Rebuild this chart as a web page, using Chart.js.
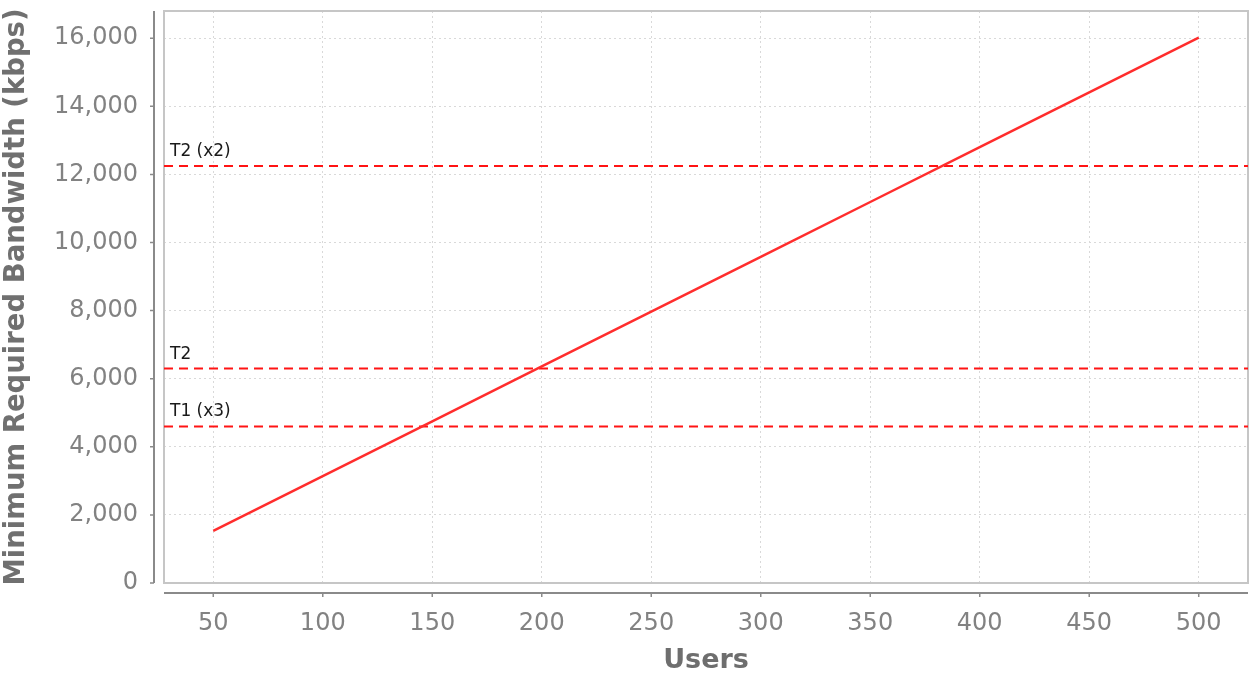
<!DOCTYPE html>
<html><head><meta charset="utf-8">
<script src="https://cdn.jsdelivr.net/npm/chart.js@4.4.1/dist/chart.umd.min.js"></script>
<style>html,body{margin:0;padding:0;background:#fff;overflow:hidden}</style>
</head><body>
<canvas id="c" width="1249" height="677"></canvas>
<script>
const USERS = [50, 100, 150, 200, 250, 300, 350, 400, 450, 500];
const BANDWIDTH = [1530, 3140, 4750, 6360, 7970, 9580, 11190, 12800, 14410, 16020];
const THRESHOLD_LABELS = ['T2 (x2)', 'T2', 'T1 (x3)'];
const THRESHOLD_VALUES = [12250, 6300, 4600];
const X_TICKS = [50, 100, 150, 200, 250, 300, 350, 400, 450, 500];
const Y_TICKS = [0, 2000, 4000, 6000, 8000, 10000, 12000, 14000, 16000];
const X_MIN = 27.5, X_MAX = 522.5, Y_MIN = 0, Y_MAX = 16800;

const FONT = 'DejaVu Sans';

const datasets = [{
  label: 'Bandwidth',
  data: USERS.map((u, i) => ({x: u, y: BANDWIDTH[i]})),
  borderColor: 'rgb(255,45,45)',
  borderWidth: 2.5,
  pointRadius: 0,
  tension: 0
}];
THRESHOLD_VALUES.forEach((v, i) => {
  datasets.push({
    label: THRESHOLD_LABELS[i],
    data: [{x: X_MIN, y: v}, {x: X_MAX, y: v}],
    borderColor: 'rgb(255,20,20)',
    borderWidth: 2,
    borderDash: [9, 6],
    pointRadius: 0
  });
});

const framePlugin = {
  id: 'frame',
  beforeDatasetsDraw(chart) {
    const ctx = chart.ctx, a = chart.chartArea;
    const xs = chart.scales.x, ys = chart.scales.y;
    ctx.save();
    ctx.strokeStyle = '#c6c6c6';
    ctx.lineWidth = 2;
    ctx.strokeRect(a.left, a.top, a.right - a.left, a.bottom - a.top);
    ctx.strokeStyle = '#8a8a8a';
    ctx.lineWidth = 2;
    const ax = a.left - 10, ay = a.bottom + 10;
    ctx.beginPath();
    ctx.moveTo(ax, a.top); ctx.lineTo(ax, a.bottom);
    ctx.moveTo(a.left, ay); ctx.lineTo(a.right, ay);
    ctx.stroke();
    ctx.lineWidth = 1.5;
    ctx.beginPath();
    Y_TICKS.forEach(v => {
      const py = ys.getPixelForValue(v);
      ctx.moveTo(ax - 4, py); ctx.lineTo(ax, py);
    });
    X_TICKS.forEach(v => {
      const px = xs.getPixelForValue(v);
      ctx.moveTo(px, ay); ctx.lineTo(px, ay + 4);
    });
    ctx.stroke();
    ctx.restore();
  },
  afterDatasetsDraw(chart) {
    const ctx = chart.ctx, a = chart.chartArea, ys = chart.scales.y;
    ctx.save();
    ctx.fillStyle = '#1a1a1a';
    ctx.font = '17px "' + FONT + '"';
    ctx.textAlign = 'left';
    ctx.textBaseline = 'alphabetic';
    THRESHOLD_VALUES.forEach((v, i) => {
      ctx.fillText(THRESHOLD_LABELS[i], a.left + 6, ys.getPixelForValue(v) - 10);
    });
    ctx.restore();
  }
};

new Chart(document.getElementById('c'), {
  type: 'line',
  data: {datasets},
  plugins: [framePlugin],
  options: {
    responsive: false,
    animation: false,
    devicePixelRatio: 1,
    layout: {padding: {top: 11, right: 1, left: 0, bottom: 0}},
    plugins: {legend: {display: false}, tooltip: {enabled: false}},
    scales: {
      x: {
        type: 'linear',
        min: X_MIN, max: X_MAX,
        afterBuildTicks: s => { s.ticks = X_TICKS.map(v => ({value: v})); },
        afterFit: s => { s.height = 94; s.paddingLeft = 0; s.paddingRight = 0; },
        ticks: {
          color: '#828282', font: {family: FONT, size: 24}, padding: 0,
          maxRotation: 0, autoSkip: false, callback: v => String(v)
        },
        grid: {color: '#d9d9d9', lineWidth: 1, drawTicks: true, tickLength: 26, tickColor: 'rgba(0,0,0,0)'},
        border: {display: false, dash: [2, 3]},
        title: {display: true, text: 'Users', color: '#6e6e6e', padding: 0,
          font: {family: FONT, size: 27, weight: 'bold'}}
      },
      y: {
        type: 'linear',
        min: Y_MIN, max: Y_MAX,
        afterBuildTicks: s => { s.ticks = Y_TICKS.map(v => ({value: v})); },
        afterFit: s => { s.width = 164; s.paddingTop = 0; s.paddingBottom = 0; },
        ticks: {
          color: '#828282', font: {family: FONT, size: 24}, padding: 0,
          autoSkip: false, callback: v => v.toLocaleString('en-US')
        },
        grid: {color: '#d9d9d9', lineWidth: 1, drawTicks: true, tickLength: 26, tickColor: 'rgba(0,0,0,0)'},
        border: {display: false, dash: [2, 3]},
        title: {display: true, text: 'Minimum Required Bandwidth (kbps)', color: '#707070', padding: 0,
          font: {family: FONT, size: 27.5, weight: 'bold'}}
      }
    }
  }
});
</script>
</body></html>
